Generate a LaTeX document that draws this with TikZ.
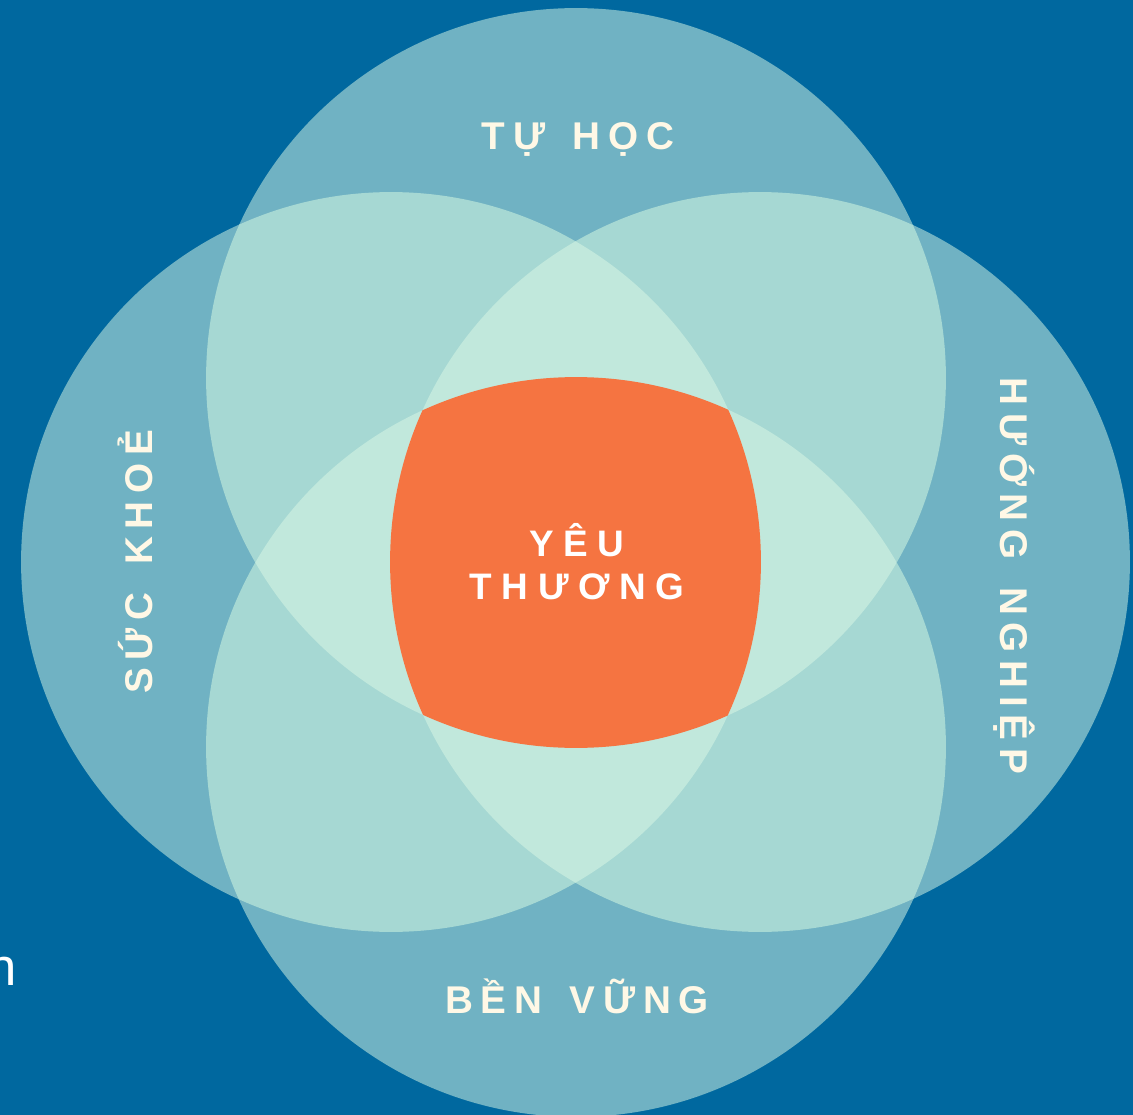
\documentclass[tikz,border=0pt]{standalone}
\usepackage{fontspec}
\setmainfont{Liberation Sans}
\newfontfamily\labelfont[LetterSpace=20,WordSpace=1.5]{Liberation Sans}
\newfontfamily\corefont[LetterSpace=26]{Liberation Sans}
\usepackage{xcolor}
\definecolor{bgblue}{RGB}{0,104,159}
\definecolor{ringone}{RGB}{112,178,195}
\definecolor{ringtwo}{RGB}{166,216,211}
\definecolor{ringthree}{RGB}{193,232,220}
\definecolor{heart}{RGB}{245,116,65}
\definecolor{cream}{RGB}{255,248,230}

\begin{document}
\begin{tikzpicture}[x=0.02cm,y=-0.02cm]
        \tikzstyle{label}=[text=cream,inner sep=0pt,anchor=base,font=\labelfont\bfseries\fontsize{22}{26}\selectfont]
        \tikzstyle{core}=[text=white,inner sep=0pt,anchor=base,align=center,font=\corefont\bfseries\fontsize{21}{24}\selectfont]
        \tikzstyle{ring}=[radius=7.4cm]
        \fill[bgblue] (0,0) rectangle (1133,1115);
        \useasboundingbox (0,0) rectangle (1133,1115);
        % circle centres
        \coordinate (top) at (576,378);
        \coordinate (left) at (391,562);
        \coordinate (right) at (760,562);
        \coordinate (bottom) at (576,747);
        % single circles
        \foreach \c in {top,left,right,bottom}
          \fill[ringone] (\c) circle[ring];
        % two circles overlap
        \foreach \a/\b in {top/left,top/right,top/bottom,left/right,left/bottom,right/bottom} {
          \begin{scope}
            \clip (\a) circle[ring];
            \fill[ringtwo] (\b) circle[ring];
          \end{scope}
        }
        % three circles overlap
        \foreach \a/\b/\d in {top/left/right,top/left/bottom,top/right/bottom,left/right/bottom} {
          \begin{scope}
            \clip (\a) circle[ring];
            \clip (\b) circle[ring];
            \fill[ringthree] (\d) circle[ring];
          \end{scope}
        }
        % centre
        \begin{scope}
          \clip (top) circle[ring];
          \clip (left) circle[ring];
          \clip (right) circle[ring];
          \fill[heart] (bottom) circle[ring];
        \end{scope}
        % labels
        \node [label] (tuhoc) at (578,150) {TỰ HỌC};
        \node [label] (benvung) at (577,1013) {BỀN VỮNG};
        \node [label,rotate=90] (suckhoe) at (152,562) {SỨC KHOẺ};
        \node [label,rotate=-90] (huongnghiep) at (1000,576) {HƯỚNG NGHIỆP};
        \node [core] (yeuthuong) at (577,599) {YÊU\\THƯƠNG};
        \node [text=white,inner sep=0pt,anchor=base east,font=\fontsize{30}{34}\selectfont] (cut) at (17,985) {n};
\end{tikzpicture}
\end{document}
